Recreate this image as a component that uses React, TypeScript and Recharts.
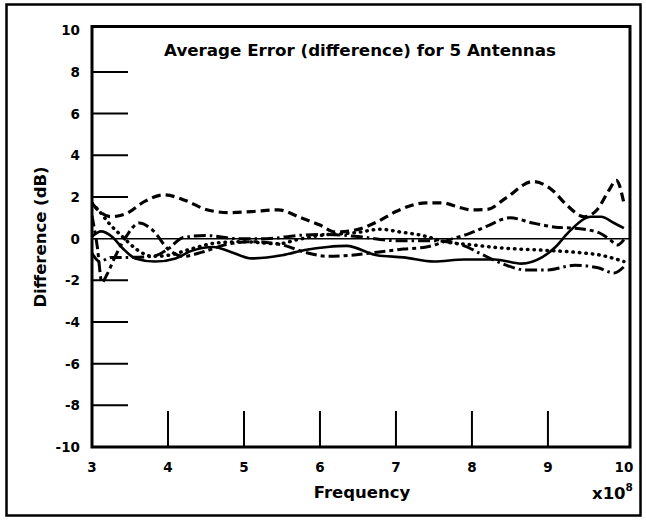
import React from 'react';
import { LineChart, Line, XAxis, YAxis, ReferenceLine, ReferenceArea } from 'recharts';

const X_TICKS = [3, 4, 5, 6, 7, 8, 9, 10];
const Y_TICKS = [-10, -8, -6, -4, -2, 0, 2, 4, 6, 8, 10];
const X_DOMAIN: [number, number] = [3, 10.08];
const Y_DOMAIN: [number, number] = [-10, 10.18];

// [frequency (x10^8), difference (dB)]
const antennaDashed: [number, number][] = [
  [3.0, 1.7], [3.1, 1.3], [3.25, 1.05], [3.45, 1.2], [3.7, 1.8], [3.95, 2.1], [4.25, 1.8],
  [4.5, 1.4], [4.8, 1.25], [5.1, 1.3], [5.45, 1.38], [5.75, 1.0], [6.0, 0.65], [6.2, 0.32],
  [6.45, 0.4], [6.75, 0.8], [7.0, 1.3], [7.4, 1.72], [7.6, 1.72], [7.85, 1.48], [8.0, 1.38],
  [8.2, 1.4], [8.45, 1.96], [8.8, 2.74], [9.05, 2.35], [9.25, 1.6], [9.48, 1.05], [9.65, 1.4],
  [9.8, 2.3], [9.9, 2.8], [10.0, 1.7],
];
const antennaDotted: [number, number][] = [
  [3.0, 1.7], [3.1, 1.3], [3.22, 0.75], [3.4, 0.1], [3.6, -0.55], [3.8, -0.85], [4.0, -0.8],
  [4.3, -0.5], [4.65, -0.2], [5.0, -0.15], [5.45, -0.25], [5.7, -0.05], [6.0, 0.15], [6.5, 0.3],
  [6.8, 0.45], [7.05, 0.32], [7.35, 0.15], [7.65, -0.15], [8.0, -0.3], [8.4, -0.45], [8.9, -0.55],
  [9.35, -0.65], [9.7, -0.8], [10.0, -1.1],
];
const antennaSolid: [number, number][] = [
  [3.0, 0.1], [3.12, 0.35], [3.26, 0.1], [3.4, -0.45], [3.57, -0.95], [3.83, -1.1], [4.1, -0.95],
  [4.3, -0.6], [4.6, -0.4], [4.8, -0.6], [5.1, -0.95], [5.5, -0.8], [5.8, -0.55], [6.1, -0.4],
  [6.35, -0.35], [6.75, -0.8], [7.1, -0.9], [7.5, -1.1], [7.9, -1.0], [8.3, -1.0], [8.65, -1.2],
  [8.92, -0.9], [9.1, -0.4], [9.27, 0.3], [9.57, 1.05], [9.7, 1.05], [9.87, 0.75], [10.0, 0.5],
];
const antennaDashShort: [number, number][] = [
  [3.0, 1.1], [3.07, -0.4], [3.13, -2.1], [3.2, -1.7], [3.3, -0.9], [3.45, 0.1], [3.62, 0.75],
  [3.8, 0.4], [4.0, -0.5], [4.2, -0.85], [4.45, -0.65], [4.75, -0.3], [5.1, -0.15], [5.5, -0.3],
  [5.8, -0.65], [6.1, -0.85], [6.4, -0.8], [6.75, -0.65], [7.1, -0.5], [7.4, -0.4], [7.75, 0.0],
  [7.97, 0.25], [8.2, 0.6], [8.5, 1.0], [8.8, 0.75], [9.1, 0.55], [9.35, 0.5], [9.66, 0.3],
  [9.8, 0.0], [9.92, -0.3], [10.0, -0.05],
];
const antennaDashDot: [number, number][] = [
  [3.0, -0.7], [3.1, -1.1], [3.25, -0.9], [3.5, -0.9], [3.8, -0.85], [4.0, -0.5], [4.2, 0.05],
  [4.5, 0.15], [4.9, 0.0], [5.3, 0.0], [5.7, 0.15], [6.1, 0.2], [6.5, 0.1], [7.0, -0.1],
  [7.5, -0.1], [7.9, -0.35], [8.1, -0.7], [8.4, -1.2], [8.7, -1.5], [9.0, -1.5], [9.35, -1.28],
  [9.66, -1.4], [9.87, -1.65], [10.0, -1.35],
];

const toRows = (pts: [number, number][]) => pts.map(([f, v]) => ({ f, v }));

const FONT = '"DejaVu Sans", sans-serif';

const YTick = (props: any) => {
  const { x, y, payload } = props;
  const v = payload.value;
  const axisX = x + 12;
  return (
    <g>
      <text x={x} y={y} dy={5} textAnchor="end" fontFamily={FONT} fontWeight="bold" fontSize={13.5} fill="#000">
        {v}
      </text>
      {v !== 0 && Math.abs(v) !== 10 && (
        <line x1={axisX} x2={axisX + 36} y1={y} y2={y} stroke="#000" strokeWidth={2} />
      )}
    </g>
  );
};

const XTick = (props: any) => {
  const { x, y, payload } = props;
  const v = payload.value;
  return (
    <g>
      <text x={x} y={y + 25} textAnchor="middle" fontFamily={FONT} fontWeight="bold" fontSize={13.5} fill="#000">
        {v}
      </text>
      {v !== 3 && v !== 10 && (
        <line x1={x} x2={x} y1={y} y2={y - 36} stroke="#000" strokeWidth={2} />
      )}
    </g>
  );
};

export default function App() {
  return (
    <div style={{ position: 'absolute', left: 0, top: 0, width: 646, height: 523, background: '#fff' }}>
      <LineChart
        width={646}
        height={523}
        margin={{ top: 26.5, right: 16, bottom: 46, left: 32 }}
      >
        <XAxis
          dataKey="f"
          type="number"
          domain={X_DOMAIN}
          ticks={X_TICKS}
          allowDataOverflow
          axisLine={false}
          tickLine={false}
          tickSize={0}
          tickMargin={0}
          height={30}
          tick={<XTick />}
          interval={0}
        />
        <YAxis
          type="number"
          domain={Y_DOMAIN}
          ticks={Y_TICKS}
          allowDataOverflow
          axisLine={false}
          tickLine={false}
          tickSize={0}
          tickMargin={12}
          width={60}
          tick={<YTick />}
          interval={0}
        />
        <ReferenceLine y={0} stroke="#000" strokeWidth={1.5} />
        <Line data={toRows(antennaSolid)} dataKey="v" type="monotone" stroke="#000" strokeWidth={2.6} dot={false} isAnimationActive={false} />
        <Line data={toRows(antennaDotted)} dataKey="v" type="monotone" stroke="#000" strokeWidth={3.5} strokeDasharray="0.5 6" strokeLinecap="round" dot={false} isAnimationActive={false} />
        <Line data={toRows(antennaDashed)} dataKey="v" type="monotone" stroke="#000" strokeWidth={3.2} strokeDasharray="9 5" dot={false} isAnimationActive={false} />
        <Line data={toRows(antennaDashShort)} dataKey="v" type="monotone" stroke="#000" strokeWidth={3} strokeDasharray="11 4 4 4" dot={false} isAnimationActive={false} />
        <Line data={toRows(antennaDashDot)} dataKey="v" type="monotone" stroke="#000" strokeWidth={3} strokeDasharray="12 4 2.5 4" dot={false} isAnimationActive={false} />
        <ReferenceArea
          x1={X_DOMAIN[0]}
          x2={X_DOMAIN[1]}
          y1={Y_DOMAIN[0]}
          y2={Y_DOMAIN[1]}
          fill="none"
          fillOpacity={0}
          stroke="#000"
          strokeWidth={3}
        />
      </LineChart>
      <svg width={646} height={523} style={{ position: 'absolute', left: 0, top: 0, pointerEvents: 'none' }}>
        <rect x={6.5} y={4.5} width={634} height={511} fill="none" stroke="#000" strokeWidth={2.5} />
        <text x={360} y={56} textAnchor="middle" fontFamily={FONT} fontWeight="bold" fontSize={16.7} fill="#000">
          Average Error (difference) for 5 Antennas
        </text>
        <text
          x={0}
          y={0}
          transform="translate(46 237) rotate(-90)"
          textAnchor="middle"
          fontFamily={FONT}
          fontWeight="bold"
          fontSize={16.5}
          fill="#000"
        >
          Difference (dB)
        </text>
        <text x={362} y={498} textAnchor="middle" fontFamily={FONT} fontWeight="bold" fontSize={16.5} fill="#000">
          Frequency
        </text>
        <text x={592} y={499} fontFamily={FONT} fontWeight="bold" fontSize={16.5} fill="#000">
          x10
          <tspan dy={-8} fontSize={10.5}>8</tspan>
        </text>
      </svg>
    </div>
  );
}
